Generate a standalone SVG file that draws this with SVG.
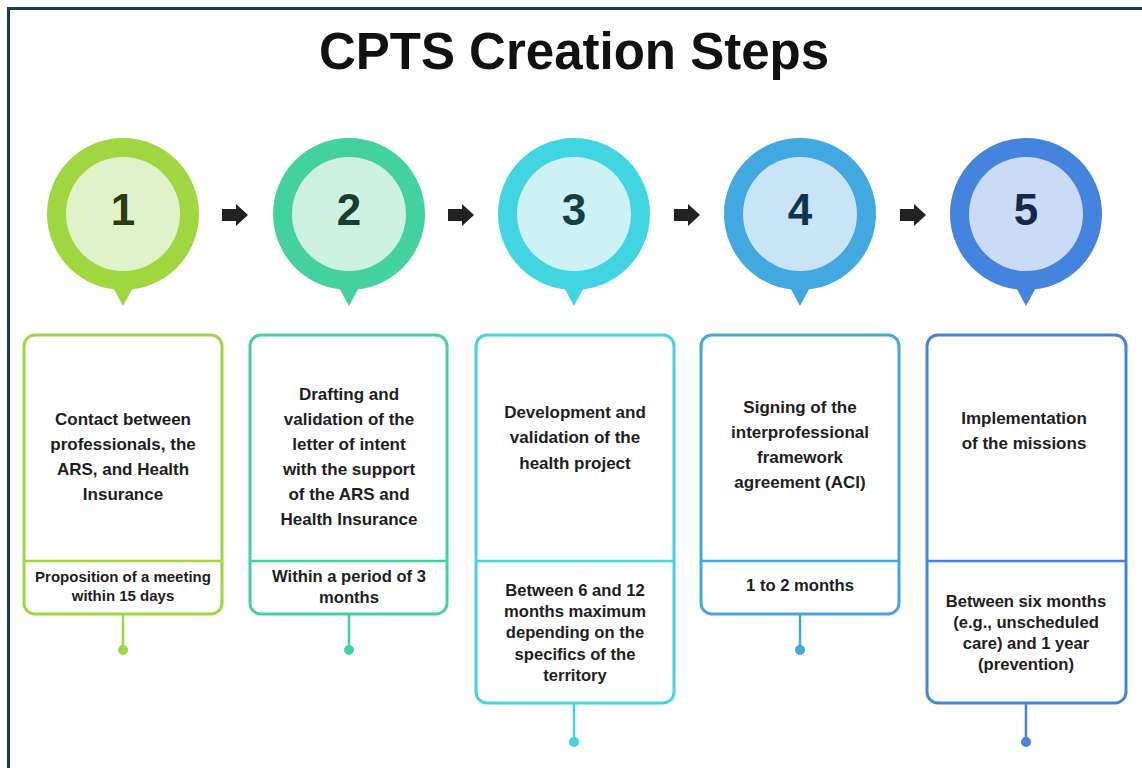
<svg xmlns="http://www.w3.org/2000/svg" width="1142" height="768" viewBox="0 0 1142 768">
  <defs>
    <style>
      .title { font-family: "Liberation Sans", Arial, sans-serif; font-weight: bold; font-size: 51px; fill: #111; text-anchor: middle; }
      .num { font-family: "Liberation Sans", Arial, sans-serif; font-weight: bold; font-size: 44px; text-anchor: middle; }
      .main { font-family: "Liberation Sans", Arial, sans-serif; font-weight: bold; font-size: 17px; fill: #1e1e1e; text-anchor: middle; }
      .sub { font-family: "Liberation Sans", Arial, sans-serif; font-weight: bold; font-size: 16.6px; fill: #1e1e1e; text-anchor: middle; }
      .sub.small { font-size: 15px; }
      .card { fill: #fff; stroke-width: 3; }
      .div { stroke-width: 2.5; }
      .stem { stroke-width: 2.5; fill: none; }
      .arrow { fill: #222; }
    </style>
    <!-- pin marker: outer disc with a downward pointer -->
    <g id="pin">
      <circle cx="0" cy="0" r="76"/>
      <path d="M-13,68 L13,68 L0,92 Z"/>
    </g>
  </defs>

  <rect width="1142" height="768" fill="#fff"/>
  <rect x="8.5" y="8.5" width="1200" height="800" fill="none" stroke="#1c3a5e" stroke-width="3"/>

  <text class="title" x="574" y="69">CPTS Creation Steps</text>

  <!-- flow arrows between the steps -->
  <g id="connectors">
    <path class="arrow" d="M222,209 H236 V204 L248,215 L236,226 V221 H222 Z"/>
    <path class="arrow" d="M448,209 H462 V204 L474,215 L462,226 V221 H448 Z"/>
    <path class="arrow" d="M674,209 H688 V204 L700,215 L688,226 V221 H674 Z"/>
    <path class="arrow" d="M900,209 H914 V204 L926,215 L914,226 V221 H900 Z"/>
    <g class="stem">
      <line x1="123" y1="614" x2="123" y2="650" stroke="#a0d63f"/>
      <line x1="349" y1="614" x2="349" y2="650" stroke="#43d1a0"/>
      <line x1="574" y1="703" x2="574" y2="742" stroke="#41d5e2"/>
      <line x1="800" y1="614" x2="800" y2="650" stroke="#41a8e0"/>
      <line x1="1026" y1="703" x2="1026" y2="742" stroke="#4483de"/>
    </g>
    <circle cx="123" cy="650" r="5" fill="#a0d63f"/>
    <circle cx="349" cy="650" r="5" fill="#43d1a0"/>
    <circle cx="574" cy="742" r="5" fill="#41d5e2"/>
    <circle cx="800" cy="650" r="5" fill="#41a8e0"/>
    <circle cx="1026" cy="742" r="5" fill="#4483de"/>
  </g>

  <!-- Step 1 -->
  <g id="step1">
    <use href="#pin" x="123" y="214" fill="#a0d63f"/>
    <circle cx="123" cy="214" r="57" fill="#e0f2c9"/>
    <text class="num" x="123" y="225" fill="#2b3a12">1</text>
    <rect class="card" x="24" y="335" width="198" height="279" rx="11" stroke="#a0d63f"/>
    <line class="div" x1="24" y1="561" x2="222" y2="561" stroke="#a0d63f"/>
    <text class="main" x="123" y="425">Contact between</text>
    <text class="main" x="123" y="450">professionals, the</text>
    <text class="main" x="123" y="475">ARS, and Health</text>
    <text class="main" x="123" y="500">Insurance</text>
    <text class="sub small" x="123" y="582">Proposition of a meeting</text>
    <text class="sub small" x="123" y="601">within 15 days</text>
  </g>

  <!-- Step 2 -->
  <g id="step2">
    <use href="#pin" x="349" y="214" fill="#43d1a0"/>
    <circle cx="349" cy="214" r="57" fill="#cdf1e3"/>
    <text class="num" x="349" y="225" fill="#1a3d2e">2</text>
    <rect class="card" x="250" y="335" width="197" height="279" rx="11" stroke="#43d1a0"/>
    <line class="div" x1="250" y1="561" x2="447" y2="561" stroke="#43d1a0"/>
    <text class="main" x="349" y="400">Drafting and</text>
    <text class="main" x="349" y="425">validation of the</text>
    <text class="main" x="349" y="450">letter of intent</text>
    <text class="main" x="349" y="475">with the support</text>
    <text class="main" x="349" y="500">of the ARS and</text>
    <text class="main" x="349" y="525">Health Insurance</text>
    <text class="sub" x="349" y="582">Within a period of 3</text>
    <text class="sub" x="349" y="603">months</text>
  </g>

  <!-- Step 3 -->
  <g id="step3">
    <use href="#pin" x="574" y="214" fill="#41d5e2"/>
    <circle cx="574" cy="214" r="57" fill="#ccf2f6"/>
    <text class="num" x="574" y="225" fill="#173f44">3</text>
    <rect class="card" x="476" y="335" width="198" height="368" rx="11" stroke="#41d5e2"/>
    <line class="div" x1="476" y1="561" x2="674" y2="561" stroke="#41d5e2"/>
    <text class="main" x="575" y="418">Development and</text>
    <text class="main" x="575" y="443">validation of the</text>
    <text class="main" x="575" y="469">health project</text>
    <text class="sub" x="575" y="596">Between 6 and 12</text>
    <text class="sub" x="575" y="617">months maximum</text>
    <text class="sub" x="575" y="638">depending on the</text>
    <text class="sub" x="575" y="660">specifics of the</text>
    <text class="sub" x="575" y="681">territory</text>
  </g>

  <!-- Step 4 -->
  <g id="step4">
    <use href="#pin" x="800" y="214" fill="#41a8e0"/>
    <circle cx="800" cy="214" r="57" fill="#c9e4f7"/>
    <text class="num" x="800" y="225" fill="#123350">4</text>
    <rect class="card" x="701" y="335" width="198" height="279" rx="11" stroke="#41a8e0"/>
    <line class="div" x1="701" y1="561" x2="899" y2="561" stroke="#41a8e0"/>
    <text class="main" x="800" y="413">Signing of the</text>
    <text class="main" x="800" y="438">interprofessional</text>
    <text class="main" x="800" y="463">framework</text>
    <text class="main" x="800" y="488">agreement (ACI)</text>
    <text class="sub" x="800" y="591">1 to 2 months</text>
  </g>

  <!-- Step 5 -->
  <g id="step5">
    <use href="#pin" x="1026" y="214" fill="#4483de"/>
    <circle cx="1026" cy="214" r="57" fill="#c9dbf5"/>
    <text class="num" x="1026" y="225" fill="#13294a">5</text>
    <rect class="card" x="927" y="335" width="199" height="368" rx="11" stroke="#4483de"/>
    <line class="div" x1="927" y1="561" x2="1126" y2="561" stroke="#4483de"/>
    <text class="main" x="1024" y="424">Implementation</text>
    <text class="main" x="1024" y="449">of the missions</text>
    <text class="sub" x="1026" y="607">Between six months</text>
    <text class="sub" x="1026" y="628">(e.g., unscheduled</text>
    <text class="sub" x="1026" y="649">care) and 1 year</text>
    <text class="sub" x="1026" y="670">(prevention)</text>
  </g>
</svg>
